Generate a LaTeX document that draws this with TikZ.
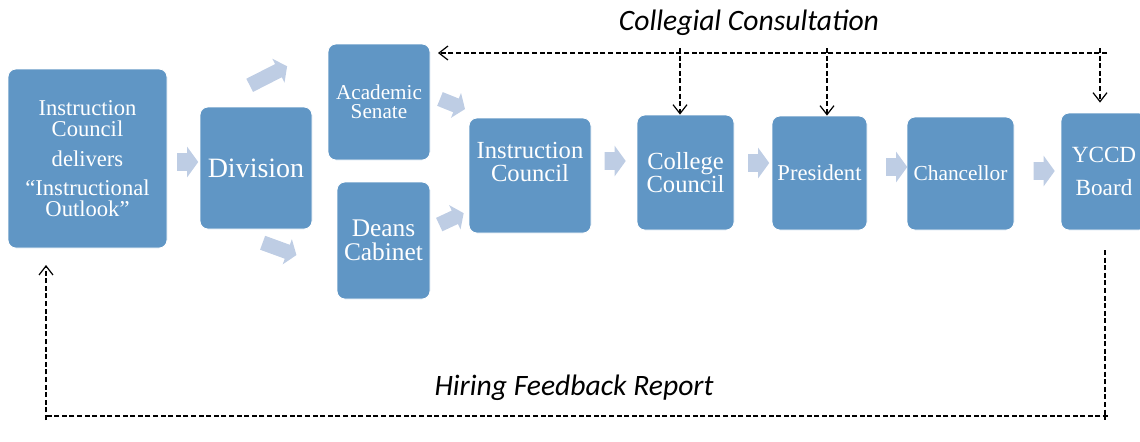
\documentclass[tikz,border=0pt]{standalone}
\usepackage{fontspec}
\setmainfont{Liberation Serif}
\newfontfamily\captionfont{Carlito}
\usetikzlibrary{shapes.arrows,arrows.meta,calc}
\definecolor{boxblue}{RGB}{96,150,197}
\definecolor{arrowblue}{RGB}{190,205,228}
\tikzset{
  stagebox/.style={rectangle, rounded corners=4pt, fill=boxblue, draw=white, line width=0.4pt, text=white, align=center, inner sep=0pt},
  flowarrow/.style={single arrow, fill=arrowblue, draw=none, inner xsep=0pt, inner ysep=4.25pt, single arrow head extend=3.25pt, single arrow tip angle=108, minimum height=#1},
  flowarrow/.default=10.5pt,
  slantarrow/.style={flowarrow=#1, inner ysep=3.5pt, single arrow head extend=3pt},
  consult/.style={draw=black, line width=0.7pt, dash pattern=on 2.5pt off 1.3pt},
  chevron/.style={-{Straight Barb[length=4.5pt,width=7pt,line width=0.6pt]}},
  captiontext/.style={font=\captionfont\itshape\fontsize{14.8}{16}\selectfont}
}

\begin{document}
\begin{tikzpicture}[x=0.5pt,y=-0.5pt]
	%%%%% START %%%%%
	\useasboundingbox (0,0) rectangle (1140,441);
	\clip (0,0) rectangle (1140,441);
	
	% stages
	\node[stagebox, minimum width=79.5pt, minimum height=89.5pt, font=\fontsize{11.3}{10.5}\selectfont] (outlook) at (87.5,158.5) {Instruction\\Council\\[4.5pt]delivers\\[4pt]“Instructional\\Outlook”};
	\node[stagebox, minimum width=56pt, minimum height=61pt, font=\fontsize{14}{16}\selectfont] (division) at (256,168) {Division};
	\node[stagebox, minimum width=51pt, minimum height=58pt, font=\fontsize{10.6}{9.5}\selectfont] (senate) at (379,102) {Academic\\Senate};
	\node[stagebox, minimum width=46.5pt, minimum height=58.5pt, font=\fontsize{12.7}{12}\selectfont] (deans) at (383.5,240.5) {Deans\\Cabinet};
	\node[stagebox, minimum width=61pt, minimum height=57.5pt, font=\fontsize{12.3}{11.5}\selectfont] (council) at (530,175.5) {Instruction\\Council\\[2pt]~};
	\node[stagebox, minimum width=48.5pt, minimum height=57.5pt, font=\fontsize{12.3}{11.5}\selectfont] (college) at (685.5,172.5) {College\\Council};
	\node[stagebox, minimum width=47.5pt, minimum height=57pt, font=\fontsize{11.3}{12}\selectfont] (president) at (819.5,173) {President};
	\node[stagebox, minimum width=53.5pt, minimum height=56.5pt, font=\fontsize{10.7}{12}\selectfont] (chancellor) at (960.5,173.5) {Chancellor};
	\node[stagebox, minimum width=43pt, minimum height=58.5pt, font=\fontsize{11.6}{16.5}\selectfont] (board) at (1104,171.5) {YCCD\\Board};
	
	% block arrows
	\node[flowarrow] (arr1) at (184.5,162) {};
	\node[slantarrow=21pt, rotate=27] (arr2) at (266,77) {};
	\node[slantarrow=18pt, rotate=-20] (arr3) at (277,248) {};
	\node[slantarrow=13.5pt, rotate=-22] (arr4) at (450,103) {};
	\node[slantarrow=13.5pt, rotate=25] (arr5) at (449,220) {};
	\node[flowarrow] (arr6) at (612,161) {};
	\node[flowarrow] (arr7) at (755.5,163) {};
	\node[flowarrow] (arr8) at (893.5,167) {};
	\node[flowarrow] (arr9) at (1041,171) {};
	
	% collegial consultation
	\coordinate (cright) at (1107,53);
	\coordinate (cleft) at (438,53);
	\coordinate (ctick1) at (680,48);
	\coordinate (ctick2) at (827,48);
	\coordinate (ctick3) at (1100,48);
	\draw[consult, chevron] (cright) -- (cleft);
	\draw[consult, chevron] (ctick1) -- (ctick1 |- college.north);
	\draw[consult, chevron] (ctick2) -- (ctick2 |- president.north);
	\draw[consult, chevron] (ctick3) -- ($(ctick3 |- board.north)+(0,-10)$);
	\node[captiontext] (collegial) at (749,23) {Collegial Consultation};
	
	% hiring feedback
	\coordinate (fbtop) at (1105,250);
	\coordinate (fbcorner) at (1105,420);
	\coordinate (fbright) at (1108,416);
	\coordinate (fbleft) at (46,416);
	\coordinate (fbstart) at (46,420);
	\coordinate (fbend) at (46,265);
	\draw[consult] (fbtop) -- (fbcorner);
	\draw[consult] (fbright) -- (fbleft);
	\draw[consult, chevron] (fbstart) -- (fbend);
	\node[captiontext] (hiring) at (574,388) {Hiring Feedback Report};
	
	%%%%% END %%%%%
\end{tikzpicture}
\end{document}
